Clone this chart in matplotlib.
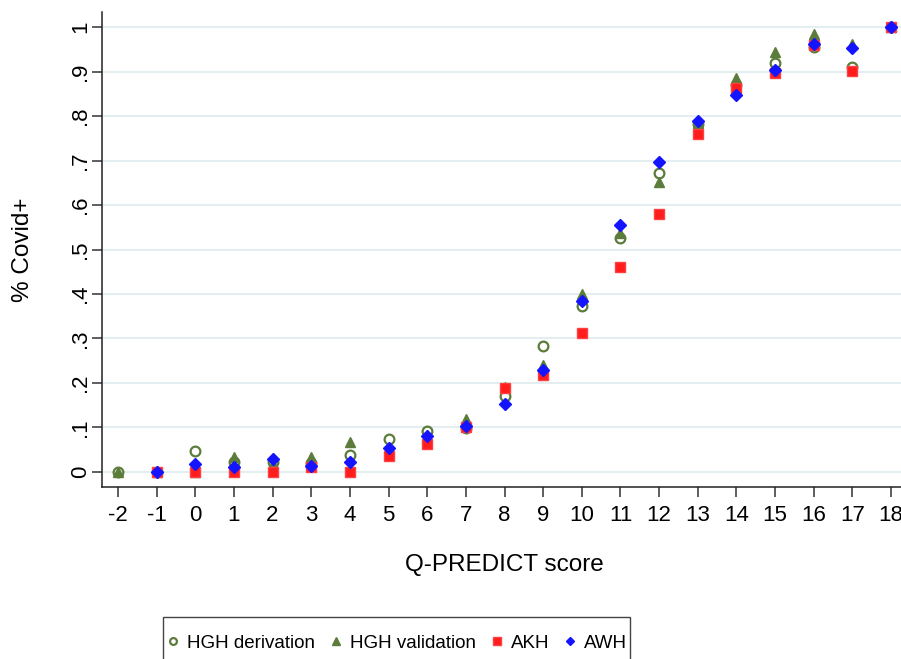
import matplotlib
matplotlib.use("Agg")
import matplotlib.pyplot as plt
from matplotlib.patches import Rectangle
import numpy as np

plt.rcParams['font.family'] = ['Liberation Sans', 'DejaVu Sans']

# Q-PREDICT scores and share of Covid+ per score, per cohort
scores = [-2, -1, 0, 1, 2, 3, 4, 5, 6, 7, 8, 9, 10, 11, 12, 13, 14, 15, 16, 17, 18]

hgh_derivation = [0, 0, 0.046, 0.023, 0.023, 0.020, 0.037, 0.075, 0.093, 0.098, 0.171,
                  0.283, 0.373, 0.525, 0.671, 0.782, 0.870, 0.920, 0.956, 0.911, 1.0]
hgh_validation = [0, 0, 0, 0.034, 0.018, 0.034, 0.067, 0.050, 0.080, 0.118, 0.190,
                  0.240, 0.400, 0.536, 0.652, 0.785, 0.886, 0.945, 0.984, 0.962, 1.0]
akh_scores = scores[1:]
akh = [0, 0, 0, 0, 0.012, 0, 0.036, 0.062, 0.100, 0.189,
       0.218, 0.312, 0.460, 0.579, 0.760, 0.864, 0.896, 0.960, 0.901, 1.0]
awh_scores = scores[1:]
awh = [0, 0.018, 0.010, 0.030, 0.014, 0.022, 0.054, 0.081, 0.104, 0.152,
       0.228, 0.384, 0.555, 0.697, 0.789, 0.848, 0.903, 0.962, 0.952, 1.0]

green = '#5b7c3a'
red = '#ff1c1c'
blue = '#1414ff'

W, H = 901, 659
fig = plt.figure(figsize=(W / 100, H / 100), dpi=100)
ax = fig.add_axes([102 / W, 1 - 487 / H, 805 / W, 475 / H])

ax.plot(scores, hgh_derivation, 'o', ls='none', mfc='none', mec=green, mew=1.6, ms=7,
        label='HGH derivation')
ax.plot(scores, hgh_validation, '^', ls='none', color=green, ms=7.5, label='HGH validation')
ax.plot(akh_scores, akh, 's', ls='none', color=red, ms=7.5, mec='#ff4040', label='AKH')
ax.plot(awh_scores, awh, 'D', ls='none', color=blue, ms=6.5, label='AWH')

ax.set_xlim(-2.41, 18.41)
ax.set_ylim(-0.034, 1.034)

ax.set_xticks(scores)
ax.set_xticklabels([str(s) for s in scores])
yt = np.round(np.arange(0, 1.01, 0.1), 1)
ax.set_yticks(yt)
ax.set_yticklabels(['0', '.1', '.2', '.3', '.4', '.5', '.6', '.7', '.8', '.9', '1'],
                   rotation=90, va='center')

ax.grid(axis='y', color='#e4edf0', lw=1.5)
ax.set_axisbelow(True)
for s in ['top', 'right']:
    ax.spines[s].set_visible(False)
for s in ['left', 'bottom']:
    ax.spines[s].set_color('#222222')
    ax.spines[s].set_linewidth(1.1)

ax.tick_params(axis='both', labelsize=16, length=7, width=1.1, color='#333333')
ax.tick_params(axis='x', pad=6)
ax.tick_params(axis='y', pad=1)

ax.set_xlabel('Q-PREDICT score', fontsize=17.5, va='center')
ax.xaxis.set_label_coords(0.5, -(565 - 487) / 475)
ax.set_ylabel('% Covid+', fontsize=17.5, va='center')
ax.yaxis.set_label_coords((23 - 102) / 805, 0.5)

# legend box runs past the bottom edge, as in the original export
leg = fig.legend(loc='center left', bbox_to_anchor=(167.6 / W, 1 - 643 / H),
                 ncol=4, fontsize=13.5, markerscale=0.7, handlelength=0.6,
                 handletextpad=0.45, columnspacing=0.8, borderpad=0,
                 borderaxespad=0, frameon=False)
fig.add_artist(Rectangle((163 / W, -0.05), (630 - 163) / W, 0.05 + 1 - 617 / H,
                         transform=fig.transFigure, fill=False, ec='#444444', lw=1.0))

fig.savefig('out.png', dpi=100)
